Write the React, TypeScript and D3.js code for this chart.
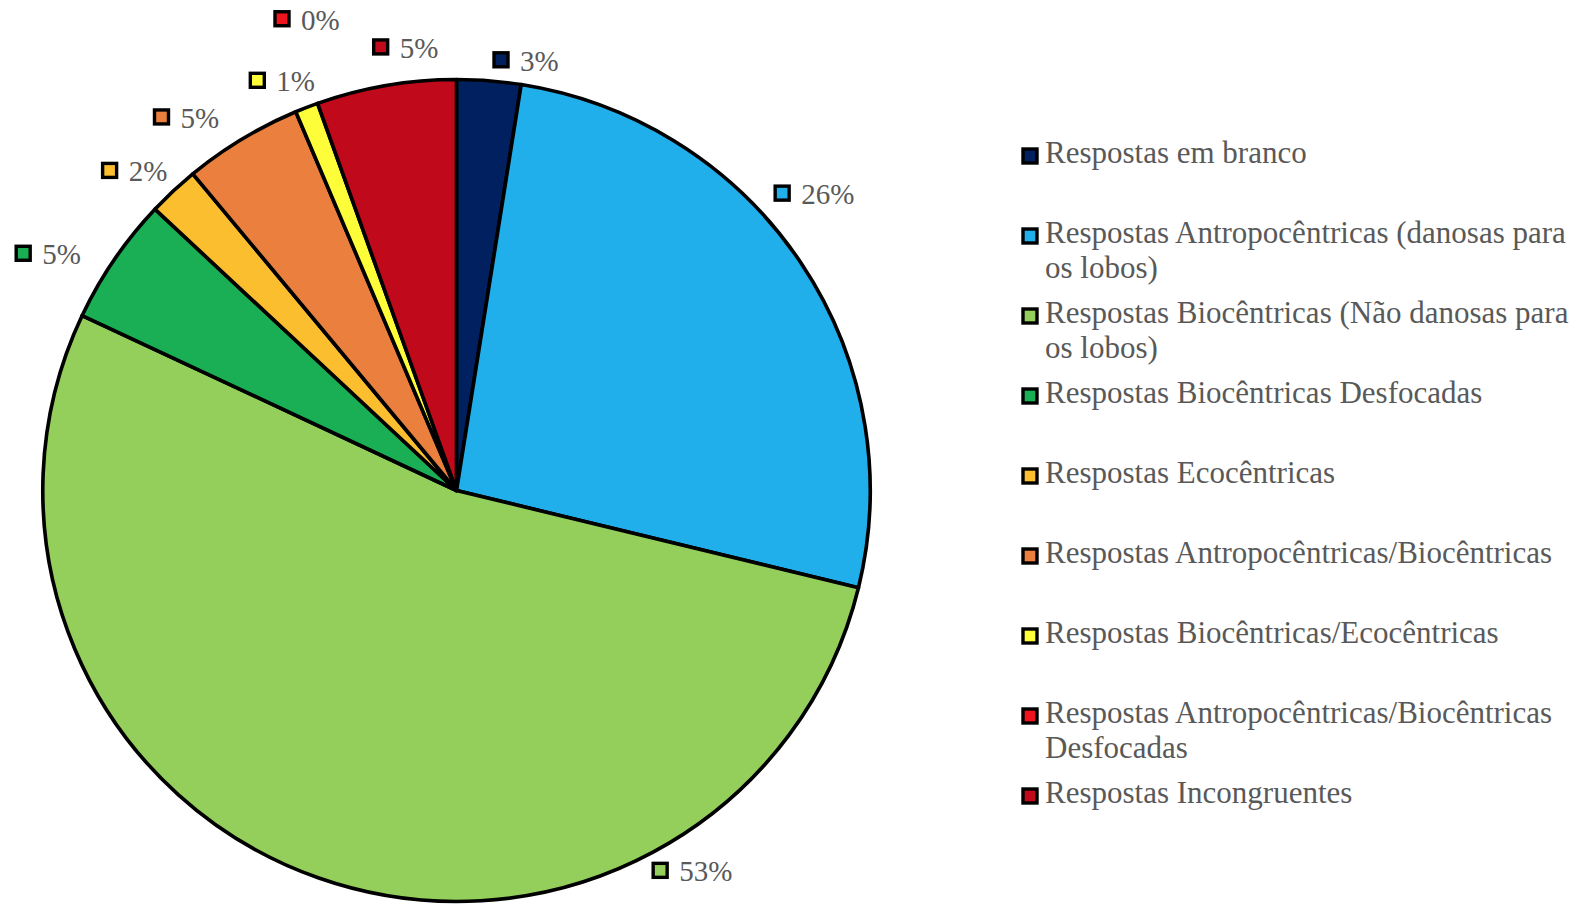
import React from "react";
import * as d3 from "d3";

const categories = [
  "Respostas em branco",
  "Respostas Antropocêntricas (danosas para os lobos)",
  "Respostas Biocêntricas (Não danosas para os lobos)",
  "Respostas Biocêntricas Desfocadas",
  "Respostas Ecocêntricas",
  "Respostas Antropocêntricas/Biocêntricas",
  "Respostas Biocêntricas/Ecocêntricas",
  "Respostas Antropocêntricas/Biocêntricas Desfocadas",
  "Respostas Incongruentes",
];

const values = [2.5, 26.3, 53.2, 5.0, 2.0, 4.65, 0.9, 0.0, 5.45];

const legendLines = [
  ["Respostas em branco"],
  ["Respostas Antropocêntricas (danosas para", "os lobos)"],
  ["Respostas Biocêntricas (Não danosas para", "os lobos)"],
  ["Respostas Biocêntricas Desfocadas"],
  ["Respostas Ecocêntricas"],
  ["Respostas Antropocêntricas/Biocêntricas"],
  ["Respostas Biocêntricas/Ecocêntricas"],
  ["Respostas Antropocêntricas/Biocêntricas", "Desfocadas"],
  ["Respostas Incongruentes"],
];

const colors = [
  "#002060",
  "#21AFEB",
  "#93CF5A",
  "#1AAF55",
  "#FBBE2F",
  "#EA7F3E",
  "#FDFD3A",
  "#F0141E",
  "#C0091A",
];

// label placement (angle in degrees clockwise from top, distance from pie centre)
const labelAngles = [5.9, 47.6, 151.8, 298.7, 312.7, 321.7, 334.1, 339.7, 350.3];
const labelDistances = [433, 441, 431, 494, 472, 476, 456, 503, 450];

const W = 1583;
const H = 904;
const cx = 456.5;
const cy = 490.5;
const R = 411;
const SX = 1.0066;
const FONT = "'Liberation Serif', 'Times New Roman', serif";
const TEXT = "#595959";

export default function App() {
  const total = d3.sum(values);
  const pie = d3
    .pie<number>()
    .sort(null)
    .value((d) => d)
    .startAngle(0)
    .endAngle(2 * Math.PI);
  const arcs = pie(values);
  const arc = d3.arc<d3.PieArcDatum<number>>().innerRadius(0).outerRadius(R);

  const legendX = 1030;
  const legendY0 = 163;
  const legendStep = 80;
  const lineH = 35;

  return (
    <svg
      width={W}
      height={H}
      style={{ position: "absolute", left: 0, top: 0, background: "#fff" }}
    >
      <g transform={`translate(${cx},${cy}) scale(${SX},1)`}>
        {arcs.map((a, i) =>
          a.endAngle - a.startAngle > 0 ? (
            <path
              key={i}
              d={arc(a) || ""}
              fill={colors[i]}
              stroke="#000"
              strokeWidth={3.6}
              strokeLinejoin="round"
            />
          ) : null
        )}
      </g>
      <g transform={`translate(${cx},${cy})`}>
        {values.map((v, i) => {
          const ang = (labelAngles[i] * Math.PI) / 180;
          const mx = Math.sin(ang) * labelDistances[i];
          const my = -Math.cos(ang) * labelDistances[i];
          const pct = Math.round((v / total) * 100);
          return (
            <g key={i}>
              <rect
                x={mx - 7}
                y={my - 7}
                width={14}
                height={14}
                fill={colors[i]}
                stroke="#000"
                strokeWidth={3.4}
              />
              <text
                x={mx + 19}
                y={my + 11}
                fontFamily={FONT}
                fontSize={29}
                fill={TEXT}
              >
                {pct}%
              </text>
            </g>
          );
        })}
      </g>
      <g>
        {categories.map((c, i) => {
          const by = legendY0 + i * legendStep;
          return (
            <g key={c}>
              <rect
                x={legendX - 7}
                y={by - 7 - 7}
                width={14}
                height={14}
                fill={colors[i]}
                stroke="#000"
                strokeWidth={3.4}
              />
              <text fontFamily={FONT} fontSize={31} fill={TEXT}>
                {legendLines[i].map((ln, j) => (
                  <tspan key={j} x={legendX + 15} y={by + j * lineH}>
                    {ln}
                  </tspan>
                ))}
              </text>
            </g>
          );
        })}
      </g>
    </svg>
  );
}
